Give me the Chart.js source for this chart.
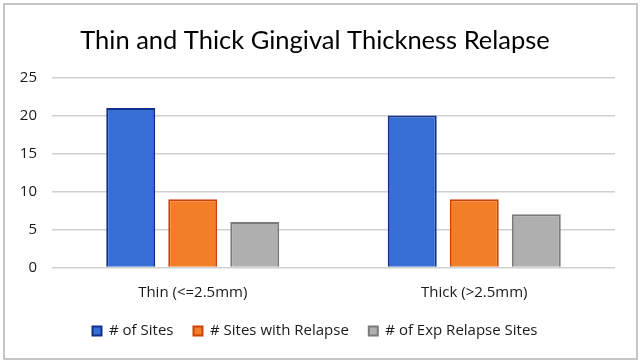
<!DOCTYPE html>
<html>
<head>
<meta charset="utf-8">
<script src="https://cdn.jsdelivr.net/npm/chart.js@4/dist/chart.umd.min.js"></script>
<style>
  html,body{margin:0;padding:0;background:#fff;}
  #wrap{position:relative;width:643px;height:364px;}
</style>
</head>
<body>
<div id="wrap"><canvas id="c" width="643" height="364"></canvas></div>
<script>
const categories = ["Thin (<=2.5mm)", "Thick (>2.5mm)"];
const sites = [21, 20];
const sitesWithRelapse = [9, 9];
const expRelapseSites = [6, 7];
const yTicks = [0, 5, 10, 15, 20, 25];
const titleText = "Thin and Thick Gingival Thickness Relapse";

const framePlugin = {
  id: 'frame',
  afterDraw(chart) {
    const ctx = chart.ctx;
    ctx.save();
    ctx.strokeStyle = '#c6c6c6';
    ctx.lineWidth = 2;
    ctx.strokeRect(4, 4, 633, 355);
    ctx.restore();
  }
};

new Chart(document.getElementById('c'), {
  type: 'bar',
  data: {
    labels: categories,
    datasets: [
      { label: '# of Sites', data: sites, backgroundColor: '#376ED4', borderColor: '#10308A', borderWidth: 2 },
      { label: '# Sites with Relapse', data: sitesWithRelapse, backgroundColor: '#F27F27', borderColor: '#C9430C', borderWidth: 2 },
      { label: '# of Exp Relapse Sites', data: expRelapseSites, backgroundColor: '#AFAFAF', borderColor: '#7A7A7A', borderWidth: 2 }
    ]
  },
  options: {
    responsive: false,
    animation: false,
    categoryPercentage: 0.661,
    barPercentage: 0.79,
    layout: { padding: { left: 15, right: 28, top: 0, bottom: 15.5 } },
    plugins: {
      title: {
        display: true,
        text: titleText,
        color: '#000',
        font: { family: 'Lato', size: 25.5, weight: 'normal' },
        padding: { top: 25, bottom: 22 }
      },
      legend: {
        position: 'bottom',
        labels: {
          color: '#1a1a1a',
          font: { family: 'Open Sans', size: 15 },
          boxWidth: 9,
          boxHeight: 9,
          padding: 20
        }
      },
      tooltip: { enabled: false }
    },
    scales: {
      x: {
        grid: { display: false, drawTicks: false },
        border: { display: false },
        ticks: { color: '#1a1a1a', font: { family: 'Open Sans', size: 15 }, padding: 16 },
        afterFit(scale) { scale.height = 36; }
      },
      y: {
        min: 0, max: 25,
        afterBuildTicks(scale) { scale.ticks = yTicks.map(v => ({ value: v })); },
        grid: { color: '#d0d0d0', lineWidth: 1.5, drawTicks: false },
        border: { display: false },
        ticks: { color: '#1a1a1a', font: { family: 'Open Sans', size: 15 }, padding: 15 },
        afterFit(scale) { scale.width = 37; }
      }
    }
  },
  plugins: [framePlugin]
});
</script>
</body>
</html>
